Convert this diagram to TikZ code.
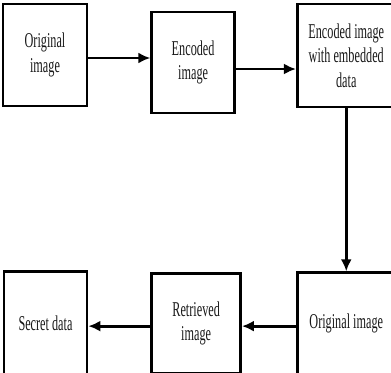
\documentclass[tikz,border=0pt]{standalone}
\usepackage{fontspec}
\setmainfont[FakeStretch=0.58]{Liberation Serif}
\usetikzlibrary{arrows.meta,positioning}

\begin{document}
\begin{tikzpicture}[font=\fontsize{12}{14}\selectfont,
  blk/.style={draw, line width=1.5pt, align=center, inner sep=2pt,
              text=black!90},
  a/.style={-{Latex[length=2.4mm,width=2.2mm]}, line width=1.6pt}]
\useasboundingbox (0,0) rectangle (7.82,-7.44);
% top row
\node[blk, minimum width=1.68cm, minimum height=2.04cm] (orig) at (0.9,-1.1)
  {Original\\image};
\node[blk, minimum width=1.66cm, minimum height=2.02cm,
      right=1.24cm of orig, yshift=-0.15cm] (enc) {Encoded\\image};
\node[blk, minimum width=1.96cm, minimum height=2.06cm,
      right=1.2cm of enc, yshift=0.14cm] (emb)
  {Encoded image\\with embedded\\data};
% bottom row
\node[blk, minimum width=1.96cm, minimum height=2.04cm,
      below=3.26cm of emb] (orig2) {Original image};
\node[blk, minimum width=1.78cm, minimum height=2.0cm,
      left=1.08cm of orig2] (ret) {Retrieved\\image};
\node[blk, minimum width=1.66cm, minimum height=2.08cm,
      left=1.24cm of ret] (sec) {Secret data};

\draw[a] ([yshift=-0.06cm]orig.east) -- ([yshift=-0.06cm]orig.east -| enc.west);
\draw[a] ([yshift=-0.13cm]enc.east) -- ([yshift=-0.13cm]enc.east -| emb.west);
\draw[a] (emb.south) -- (orig2.north);
\draw[a] ([yshift=-0.05cm]orig2.west) -- ([yshift=-0.05cm]orig2.west -| ret.east);
\draw[a] ([yshift=-0.05cm]ret.west) -- ([yshift=-0.05cm]ret.west -| sec.east);
\end{tikzpicture}
\end{document}
